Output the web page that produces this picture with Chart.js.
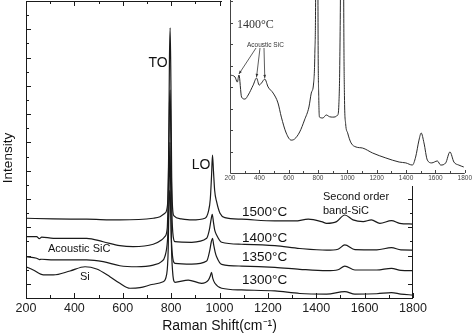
<!DOCTYPE html>
<html>
<head>
<meta charset="utf-8">
<script src="https://cdn.jsdelivr.net/npm/chart.js@4.4.0/dist/chart.umd.min.js"></script>
<style>
  html, body { margin: 0; padding: 0; background: #fff; }
  #wrap { position: relative; width: 473px; height: 335px; }
  #main { position: absolute; left: 0; top: 0; }
  #inset { position: absolute; left: 222px; top: 0; background: #fff; }
</style>
</head>
<body>
<div id="wrap">
  <canvas id="main" width="473" height="335"></canvas>
  <canvas id="inset" width="251" height="186"></canvas>
</div>
<script>
// data: [raman shift (cm-1), intensity (a.u., stacked)]
const s1500 = [[200,4.64],[313,4.59],[451,4.57],[588,4.52],[726,4.64],[754,4.75],[774,4.99],[785,5.58],[790,9.47],[793,15.8],[796,18.1],[799,14.4],[802,8.05],[806,5.36],[812,4.8],[840,4.6],[885,4.52],[940,4.64],[954,5.1],[962,6.0],[967,7.6],[971,9.11],[975,8.0],[980,6.6],[988,5.81],[1002,4.99],[1022,4.68],[1091,4.57],[1229,4.45],[1312,4.45],[1367,4.57],[1422,4.4],[1443,4.28],[1484,4.4],[1518,4.87],[1552,4.52],[1594,4.4],[1628,4.52],[1663,4.28],[1711,4.47],[1745,4.28],[1800,4.23]];
const s1400 = [[200,3.34],[244,3.34],[255,3.2],[265,3.31],[313,3.22],[451,3.22],[519,2.98],[588,2.7],[643,2.63],[726,2.8],[760,3.1],[774,3.34],[784,3.95],[789,7.5],[793,12.5],[796,13.7],[799,10],[803,5.2],[809,3.3],[816,2.98],[885,2.94],[947,3.22],[958,3.81],[965,4.52],[970,4.92],[975,4.37],[980,3.81],[988,3.46],[1009,2.94],[1091,2.8],[1229,2.7],[1332,2.5],[1443,2.38],[1490,2.45],[1518,2.75],[1560,2.42],[1650,2.4],[1711,2.56],[1750,2.4],[1800,2.39]];
const s1350 = [[200,1.92],[244,1.81],[255,1.72],[265,1.74],[313,1.69],[451,1.69],[519,1.57],[588,1.28],[657,1.21],[726,1.33],[760,1.57],[774,1.92],[785,3.1],[790,5.0],[794,6.6],[797,6.0],[801,3.2],[807,1.8],[816,1.45],[885,1.4],[947,1.62],[960,2.39],[966,2.96],[971,3.22],[976,2.75],[982,2.25],[988,1.92],[1009,1.38],[1091,1.26],[1229,1.17],[1332,1.03],[1443,0.93],[1490,1.0],[1518,1.26],[1560,0.98],[1650,0.98],[1711,1.1],[1750,0.95],[1800,0.93]];
const s1300 = [[200,1.21],[230,0.98],[272,0.63],[313,0.63],[382,0.91],[444,1.21],[492,1.05],[547,0.51],[588,0.04],[630,-0.31],[671,-0.27],[726,-0.03],[767,0.15],[781,0.63],[788,2.5],[792,7],[795,10],[798,7],[801,3],[806,0.9],[816,0.11],[871,0.27],[926,0.04],[954,0.27],[962,0.56],[967,0.82],[972,0.41],[981,0.04],[1009,-0.31],[1091,-0.43],[1229,-0.5],[1332,-0.68],[1443,-0.72],[1518,-0.55],[1560,-0.72],[1650,-0.7],[1711,-0.62],[1750,-0.72],[1800,-0.79]];
const inset1400 = [[200,4.56],[234,4.47],[250,4.23],[261,4.56],[279,3.53],[302,3.44],[324,3.63],[358,4.09],[381,4.42],[399,4.09],[415,4.19],[437,4.37],[460,4.0],[494,3.72],[527,3.26],[550,2.6],[583,1.86],[617,1.53],[640,1.58],[675,1.91],[708,2.47],[738,3.07],[754,3.72],[770,4.19],[778,5.5],[784,9],[788,20],[792,40],[796,20],[800,7],[805,3.5],[810,2.6],[833,2.56],[856,2.7],[878,2.62],[900,2.6],[934,2.7],[942,3.2],[948,5],[954,10],[960,22],[965,40],[970,22],[975,8],[980,3.6],[988,2.3],[1002,1.86],[1025,1.4],[1059,1.21],[1104,1.16],[1172,0.93],[1262,0.7],[1353,0.51],[1398,0.47],[1443,0.37],[1465,0.74],[1488,1.53],[1503,1.86],[1522,1.4],[1545,0.6],[1575,0.47],[1613,0.56],[1636,0.37],[1670,0.47],[1699,0.98],[1726,0.51],[1759,0.37],[1793,0.28]];
const acousticPoints = [[261,4.56],[381,4.42],[437,4.37]];

const xTicks = [200, 400, 600, 800, 1000, 1200, 1400, 1600, 1800];

function toXY(arr) {
  return arr.map(p => ({x: p[0], y: p[1]}));
}

function lineSet(arr, color) {
  return {
    data: toXY(arr),
    borderColor: color,
    borderWidth: 1.2,
    pointRadius: 0,
    fill: false,
    cubicInterpolationMode: 'monotone'
  };
}

// frame, inward ticks and labels for the big plot
const mainDecor = {
  id: 'mainDecor',
  afterDraw(chart) {
    const {ctx, chartArea: a, scales: {x, y}} = chart;
    ctx.save();
    ctx.strokeStyle = '#1a1a1a';
    ctx.lineWidth = 1;
    ctx.strokeRect(a.left + 0.5, a.top + 0.5, a.right - a.left - 1, a.bottom - a.top);
    ctx.beginPath();
    for (let v = 200; v <= 1800; v += 100) {
      const px = Math.round(x.getPixelForValue(v)) + 0.5;
      const len = v % 200 === 0 ? 5 : 3;
      ctx.moveTo(px, a.bottom); ctx.lineTo(px, a.bottom - len);
      ctx.moveTo(px, a.top); ctx.lineTo(px, a.top + len);
    }
    for (let v = 0; v < 20; v++) {
      const py = Math.round(y.getPixelForValue(v)) + 0.5;
      const len = v % 2 === 0 ? 5 : 3;
      ctx.moveTo(a.left, py); ctx.lineTo(a.left + len, py);
      ctx.moveTo(a.right, py); ctx.lineTo(a.right - len, py);
    }
    ctx.stroke();

    ctx.fillStyle = '#111';
    ctx.textBaseline = 'middle';
    ctx.font = '14px "Liberation Sans", Arial, sans-serif';
    ctx.textAlign = 'center';
    ctx.fillText('TO', 158, 63);
    ctx.fillText('LO', 201, 165);
    ctx.textAlign = 'left';
    ctx.font = '13.5px "Liberation Sans", Arial, sans-serif';
    ctx.fillText('1500°C', 242, 212);
    ctx.fillText('1400°C', 242, 238);
    ctx.fillText('1350°C', 242, 257);
    ctx.fillText('1300°C', 242, 280);
    ctx.font = '11px "Liberation Sans", Arial, sans-serif';
    ctx.fillText('Second order', 323, 197);
    ctx.fillText('band-SiC', 323, 211);
    ctx.fillText('Acoustic SiC', 48, 249);
    ctx.fillText('Si', 80, 277);

    ctx.translate(8, 158);
    ctx.rotate(-Math.PI / 2);
    ctx.textAlign = 'center';
    ctx.font = '13.5px "Liberation Sans", Arial, sans-serif';
    ctx.fillText('Intensity', 0, 0);
    ctx.restore();
  }
};

// axes, ticks and notes for the inset
const insetDecor = {
  id: 'insetDecor',
  afterDraw(chart) {
    const {ctx, chartArea: a, scales: {x, y}} = chart;
    ctx.save();
    ctx.strokeStyle = '#444';
    ctx.lineWidth = 1;
    ctx.beginPath();
    ctx.moveTo(a.left + 0.5, 0); ctx.lineTo(a.left + 0.5, a.bottom + 0.5);
    ctx.lineTo(a.right, a.bottom + 0.5);
    for (let v = 200; v <= 1800; v += 100) {
      const px = Math.round(x.getPixelForValue(v)) + 0.5;
      const len = v % 200 === 0 ? 3 : 2;
      ctx.moveTo(px, a.bottom); ctx.lineTo(px, a.bottom - len);
    }
    for (let v = 1; v <= 8; v++) {
      const py = Math.round(y.getPixelForValue(v)) + 0.5;
      ctx.moveTo(a.left, py); ctx.lineTo(a.left + 3, py);
    }
    ctx.stroke();

    ctx.fillStyle = '#333';
    ctx.textBaseline = 'middle';
    ctx.textAlign = 'left';
    ctx.font = '12px "Liberation Serif", "Times New Roman", serif';
    ctx.fillText('1400°C', 15, 25);
    ctx.font = '6.5px "Liberation Sans", Arial, sans-serif';
    ctx.fillText('Acoustic SiC', 25, 45);

    // arrows to the acoustic features
    ctx.strokeStyle = '#333';
    ctx.lineWidth = 0.8;
    acousticPoints.forEach((p, i) => {
      const tx = x.getPixelForValue(p[0]);
      const ty = y.getPixelForValue(p[1]) - 1;
      const sx = 34 + i * 4, sy = 48;
      ctx.beginPath();
      ctx.moveTo(sx, sy); ctx.lineTo(tx, ty);
      ctx.stroke();
      const ang = Math.atan2(ty - sy, tx - sx);
      ctx.beginPath();
      ctx.moveTo(tx, ty);
      ctx.lineTo(tx - 3.5 * Math.cos(ang - 0.4), ty - 3.5 * Math.sin(ang - 0.4));
      ctx.lineTo(tx - 3.5 * Math.cos(ang + 0.4), ty - 3.5 * Math.sin(ang + 0.4));
      ctx.closePath();
      ctx.fill();
    });
    ctx.restore();
  }
};

const plainNum = v => String(v);

const mainChart = new Chart(document.getElementById('main').getContext('2d'), {
  type: 'line',
  data: {
    datasets: [
      lineSet(s1500, '#1a1a1a'),
      lineSet(s1400, '#1a1a1a'),
      lineSet(s1350, '#1a1a1a'),
      lineSet(s1300, '#1a1a1a')
    ]
  },
  options: {
    responsive: false,
    animation: false,
    devicePixelRatio: 1,
    layout: { padding: { top: 1, right: 60, left: 0, bottom: 0 } },
    plugins: { legend: { display: false }, tooltip: { enabled: false } },
    scales: {
      x: {
        type: 'linear',
        min: 200,
        max: 1800,
        afterBuildTicks(scale) { scale.ticks = xTicks.map(v => ({value: v})); },
        ticks: {
          color: '#222',
          padding: 3,
          callback: plainNum,
          font: { family: '"Liberation Sans", Arial, sans-serif', size: 12.5 }
        },
        grid: { display: false, drawTicks: false },
        border: { display: false },
        title: {
          display: true,
          text: 'Raman Shift(cm⁻¹)',
          color: '#111',
          padding: 0,
          font: { family: '"Liberation Sans", Arial, sans-serif', size: 14 }
        },
        afterFit(scale) { scale.height = 37; }
      },
      y: {
        type: 'linear',
        min: -1,
        max: 20,
        ticks: { display: false },
        grid: { display: false, drawTicks: false },
        border: { display: false },
        afterFit(scale) { scale.width = 26; }
      }
    }
  },
  plugins: [mainDecor]
});

const insetChart = new Chart(document.getElementById('inset').getContext('2d'), {
  type: 'line',
  data: { datasets: [Object.assign(lineSet(inset1400, '#2a2a2a'), { borderWidth: 1 })] },
  options: {
    responsive: false,
    animation: false,
    devicePixelRatio: 1,
    layout: { padding: { top: 0, right: 7, left: 0, bottom: 0 } },
    plugins: { legend: { display: false }, tooltip: { enabled: false } },
    scales: {
      x: {
        type: 'linear',
        min: 200,
        max: 1800,
        afterBuildTicks(scale) { scale.ticks = xTicks.map(v => ({value: v})); },
        ticks: {
          color: '#444',
          padding: 1,
          autoSkip: false,
          maxRotation: 0,
          callback: plainNum,
          font: { family: '"Liberation Sans", Arial, sans-serif', size: 6.5 }
        },
        grid: { display: false, drawTicks: false },
        border: { display: false },
        afterFit(scale) { scale.height = 13; }
      },
      y: {
        type: 'linear',
        min: 0,
        max: 8.05,
        ticks: { display: false },
        grid: { display: false, drawTicks: false },
        border: { display: false },
        afterFit(scale) { scale.width = 8; }
      }
    }
  },
  plugins: [insetDecor]
});
</script>
</body>
</html>
